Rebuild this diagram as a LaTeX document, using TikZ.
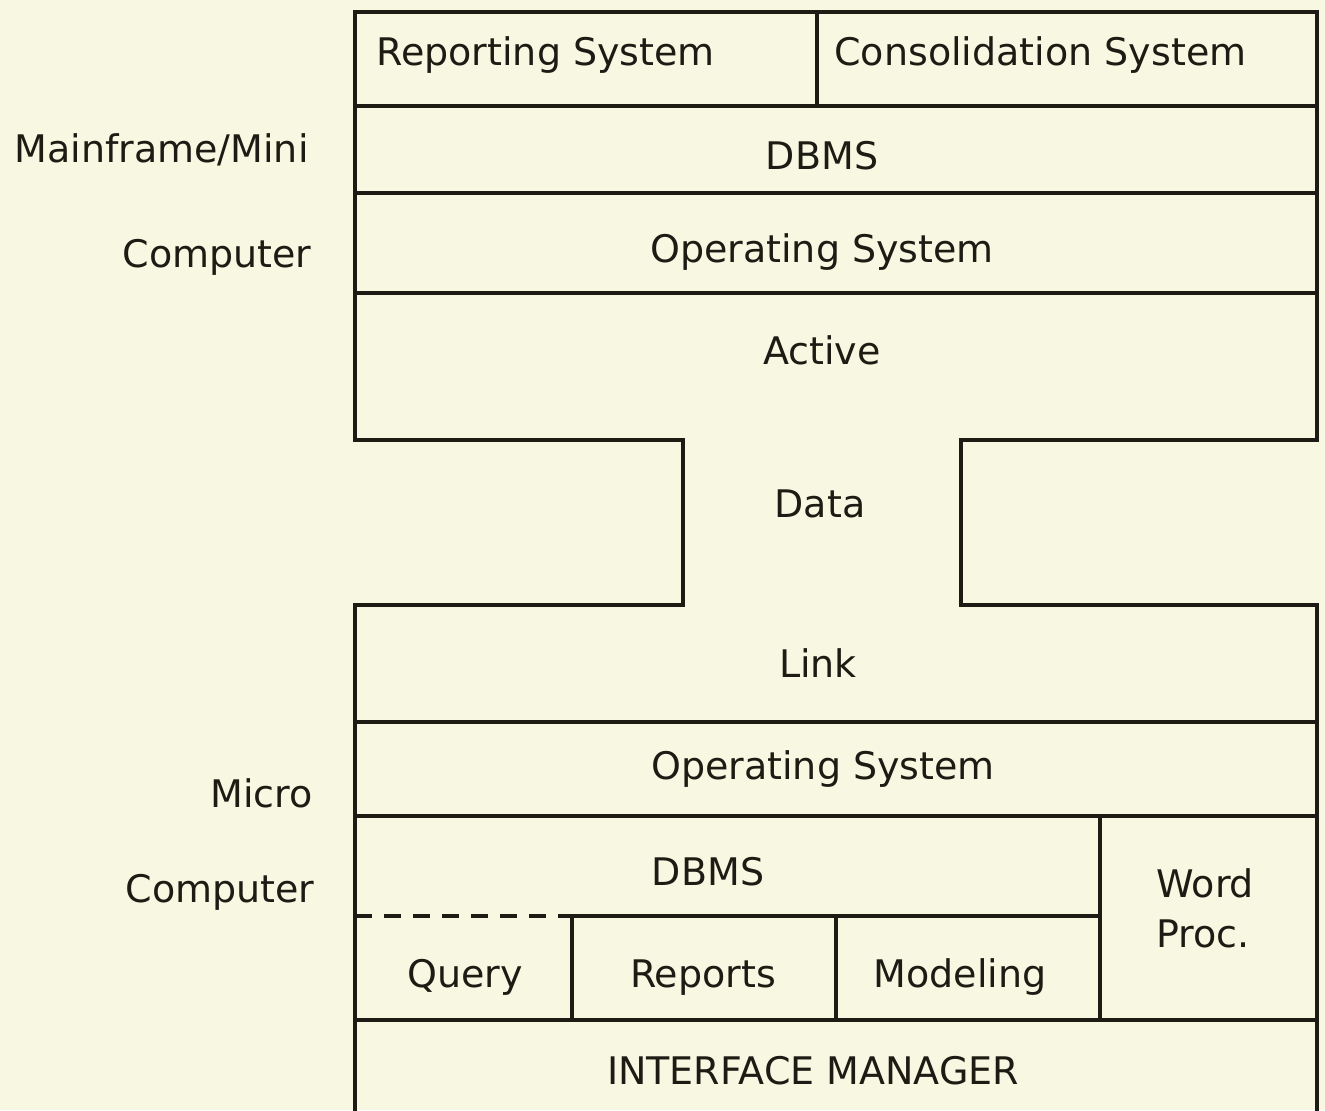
\documentclass[tikz,border=0pt]{standalone}
\usepackage{fontspec}
\setmainfont{DejaVu Sans}
\definecolor{paper}{RGB}{248,248,226}
\definecolor{ink}{RGB}{28,28,20}
\begin{document}
\begin{tikzpicture}[x=0.5pt,y=-0.5pt,
  frame/.style={draw=ink,line width=1.7pt,line join=miter},
  lbl/.style={anchor=base,inner sep=0pt,text=ink,font=\fontsize{19}{22}\selectfont},
  lblw/.style={anchor=base west,inner sep=0pt,text=ink,font=\fontsize{19}{22}\selectfont},
  side/.style={anchor=base east,inner sep=0pt,text=ink,font=\fontsize{19}{22}\selectfont}]
\useasboundingbox (0,0) rectangle (1325,1110);
\fill[paper] (0,0) rectangle (1325,1110);
\clip (0,0) rectangle (1325,1110);
% outline
\draw[frame] (355,1120) -- (355,605) -- (683,605) -- (683,440) -- (355,440) -- (355,12)
  -- (1317,12) -- (1317,440) -- (961,440) -- (961,605) -- (1317,605) -- (1317,1120);
% upper rows
\draw[frame] (355,106) -- (1317,106);
\draw[frame] (817,12) -- (817,106);
\draw[frame] (355,193) -- (1317,193);
\draw[frame] (355,293) -- (1317,293);
% lower rows
\draw[frame] (355,722) -- (1317,722);
\draw[frame] (355,816) -- (1317,816);
\draw[frame,dash pattern=on 8.5pt off 6pt] (355,916) -- (572,916);
\draw[frame] (572,916) -- (1100,916);
\draw[frame] (355,1020) -- (1317,1020);
\draw[frame] (1100,816) -- (1100,1020);
\draw[frame] (572,916) -- (572,1020);
\draw[frame] (836,916) -- (836,1020);
% labels
\node[lblw] (rep) at (376,65) {Reporting System};
\node[lblw] (con) at (834,65) {Consolidation System};
\node[lbl] (dbmsm) at (822,169) {DBMS};
\node[lbl] (osm) at (822,262) {Operating System};
\node[lbl] (act) at (822,364) {Active};
\node[lbl] (dat) at (820,517) {Data};
\node[lbl] (lnk) at (818,677) {Link};
\node[lbl] (osu) at (823,779) {Operating System};
\node[lbl] (dbmsu) at (708,885) {DBMS};
\node[lblw] (wrd) at (1156,897) {Word};
\node[lblw] (prc) at (1156,947) {Proc.};
\node[lbl] (qry) at (465,987) {Query};
\node[lbl] (rpt) at (703,987) {Reports};
\node[lbl] (mdl) at (960,987) {Modeling};
\node[lbl] (ifm) at (813,1084) {INTERFACE MANAGER};
\node[side] (mm) at (309,162) {Mainframe/Mini};
\node[side] (c1) at (312,267) {Computer};
\node[side] (mic) at (313,807) {Micro};
\node[side] (c2) at (315,902) {Computer};
\end{tikzpicture}
\end{document}
